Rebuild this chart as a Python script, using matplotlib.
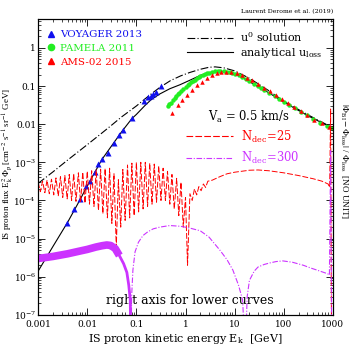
import numpy as np
import matplotlib
matplotlib.use('Agg')
import matplotlib.pyplot as plt
from matplotlib.lines import Line2D

plt.rcParams['font.family'] = ['DejaVu Serif']
plt.rcParams['mathtext.fontset'] = 'dejavuserif'

# --- data ---
voyager_e = [0.0039, 0.0054, 0.0072, 0.0095, 0.0114, 0.0144, 0.0166, 0.020, 0.0265, 0.035,
             0.044, 0.053, 0.081, 0.143, 0.172, 0.198, 0.216, 0.25, 0.316]
voyager_f = [2.6e-5, 5.8e-5, 1.07e-4, 2.36e-4, 3.2e-4, 5.5e-4, 8.9e-4, 1.2e-3, 1.8e-3, 3.2e-3,
             5.1e-3, 6.9e-3, 0.0144, 0.041, 0.051, 0.055, 0.062, 0.070, 0.10]

pamela_e = [0.44, 0.47, 0.5, 0.55, 0.6, 0.65, 0.7, 0.75, 0.8, 0.9, 1.0, 1.1, 1.2, 1.3, 1.4, 1.55, 1.7,
            1.85, 2.0, 2.25, 2.5, 2.75, 3.0, 3.5, 4.0, 4.5, 5.0, 6.0, 7.0, 8.0, 9.0, 10, 12, 14, 17,
            20, 25, 30, 35, 40, 50, 65, 80, 100, 130, 170, 220, 300, 400, 550, 750, 950]
pamela_f = [0.030, 0.033, 0.037, 0.043, 0.048, 0.054, 0.060, 0.066, 0.072, 0.083, 0.094, 0.105,
            0.115, 0.125, 0.135, 0.148, 0.160, 0.170, 0.180, 0.193, 0.205, 0.215, 0.225, 0.238,
            0.245, 0.249, 0.250, 0.248, 0.240, 0.230, 0.220, 0.210, 0.190, 0.175, 0.152, 0.135,
            0.115, 0.100, 0.089, 0.080, 0.066, 0.054, 0.046, 0.039, 0.032, 0.026, 0.021, 0.017,
            0.0135, 0.011, 0.0092, 0.0080]

ams_e = [0.52, 0.71, 0.83, 1.05, 1.33, 1.68, 2.12, 2.68, 3.4, 4.3, 5.4, 6.8, 8.5, 11, 14, 18, 23,
         30, 40, 52, 68, 90, 120, 160, 220, 300, 420, 600, 850]
ams_f = [0.020, 0.032, 0.043, 0.058, 0.079, 0.107, 0.13, 0.16, 0.195, 0.22, 0.235, 0.24, 0.235,
         0.22, 0.195, 0.165, 0.14, 0.115, 0.09, 0.073, 0.058, 0.046, 0.036, 0.029, 0.022, 0.017,
         0.013, 0.0105, 0.0085]

# u0 solution (dash-dot) and analytical u_loss (solid)
u0_e = [0.001, 0.002, 0.004, 0.01, 0.02, 0.03, 0.05, 0.1, 0.15, 0.2, 0.3, 0.5, 0.8, 1.2, 2, 3, 4,
        6, 10, 20, 50, 100, 300, 1000]
u0_f = [2.8e-4, 5.6e-4, 1.15e-3, 2.9e-3, 5.9e-3, 9e-3, 0.0155, 0.03, 0.046, 0.062, 0.092, 0.14,
        0.185, 0.225, 0.275, 0.31, 0.318, 0.30, 0.25, 0.16, 0.075, 0.040, 0.018, 0.0080]
uloss_e = [0.001, 0.002, 0.004, 0.007, 0.01, 0.02, 0.03, 0.05, 0.081, 0.1, 0.15, 0.2, 0.3, 0.48,
           0.77, 1.2, 2, 3, 5, 8, 12, 20, 50, 100, 300, 1000]
uloss_f = [1.4e-6, 6.2e-6, 2.7e-5, 1.0e-4, 2.4e-4, 1.2e-3, 2.5e-3, 6.3e-3, 0.014, 0.018, 0.031,
           0.044, 0.062, 0.085, 0.108, 0.14, 0.19, 0.225, 0.245, 0.23, 0.19, 0.13, 0.066, 0.038,
           0.017, 0.0078]

# relative difference N_dec = 25 (red, oscillating)
red_e = [0.001, 0.00111, 0.00123, 0.00137, 0.00152, 0.00169, 0.00187, 0.00208, 0.00231, 0.00257,
         0.00285, 0.00317, 0.0035, 0.0039, 0.0043, 0.0048, 0.0053, 0.0059, 0.0066, 0.0073, 0.0081,
         0.009, 0.01, 0.0111, 0.0123, 0.0137, 0.0152, 0.0169, 0.0187, 0.0208, 0.0231, 0.0257,
         0.0285, 0.0317, 0.035, 0.039, 0.043, 0.048, 0.053, 0.059, 0.066, 0.073, 0.081, 0.09, 0.1,
         0.111, 0.123, 0.137, 0.152, 0.169, 0.187, 0.208, 0.231, 0.257, 0.285, 0.317, 0.35, 0.39,
         0.43, 0.48, 0.53, 0.59, 0.66, 0.73, 0.81, 0.9, 1.0, 1.1, 1.23, 1.37, 1.52, 1.69, 1.87,
         2.08, 2.31, 2.57, 2.85, 3.5, 5, 7, 10, 20, 30, 50, 100, 200, 400, 600, 800, 860, 900, 940]
red_f = [3.0e-4, 1.7e-4, 3.2e-4, 1.6e-4, 3.4e-4, 1.5e-4, 3.6e-4, 1.4e-4, 3.9e-4, 1.3e-4,
         4.2e-4, 1.2e-4, 4.5e-4, 1.1e-4, 4.8e-4, 1.0e-4, 5.0e-4, 9.5e-5, 5.3e-4, 9e-5, 5.5e-4,
         8.5e-5, 5.8e-4, 8e-5, 6.0e-4, 7e-5, 6.3e-4, 5.5e-5, 6.6e-4, 4.5e-5, 6.9e-4, 3.5e-5,
         7.0e-4, 2.5e-5, 5.0e-4, 6e-6, 3.5e-4, 2e-5, 6.5e-4, 3e-5, 8.5e-4, 3.5e-5, 9.5e-4, 4e-5,
         1.0e-3, 5e-5, 1.0e-3, 6e-5, 1.0e-3, 7e-5, 9.5e-4, 8e-5, 9e-4, 9e-5, 8e-4, 1.0e-4, 7e-4,
         1.0e-4, 5.8e-4, 8e-5, 4.8e-4, 6e-5, 3.8e-4, 4e-5, 3.0e-4, 2e-5, 1.2e-4, 2e-6, 1.5e-4,
         1.0e-4, 2.0e-4, 1.4e-4, 2.3e-4, 1.8e-4, 2.7e-4, 2.2e-4, 3.2e-4, 3.4e-4, 4.2e-4, 5e-4,
         5.5e-4, 6.2e-4, 6.3e-4, 6e-4, 5.3e-4, 4.5e-4, 3.7e-4, 3.2e-4, 2.7e-4, 2.2e-4, 2.5e-2, 1e-8]

# relative difference N_dec = 300 (violet): thick band at low energy, then thin curve
band_e = [0.001, 0.002, 0.004, 0.007, 0.01, 0.015, 0.02, 0.025, 0.03, 0.037, 0.045]
band_f = [3.0e-6, 3.4e-6, 4.0e-6, 4.7e-6, 5.2e-6, 6.0e-6, 6.5e-6, 6.8e-6, 6.6e-6, 5.5e-6, 3.6e-6]
dip_e = [0.045, 0.055, 0.064, 0.07, 0.075, 0.078]
dip_f = [3.6e-6, 2.2e-6, 1.3e-6, 6e-7, 2.5e-7, 1e-8]
vio_e = [0.078, 0.08, 0.085, 0.094, 0.11, 0.136, 0.17, 0.22, 0.3, 0.48, 0.8, 1.2, 2, 3, 5, 7, 9.2,
         12, 14.5, 16.5, 18, 20, 25, 30, 40, 52, 70, 96, 150, 250, 350, 470, 650, 780, 850, 900, 950]
vio_f = [1e-8, 3e-7, 1.5e-6, 4.5e-6, 8e-6, 1.2e-5, 1.5e-5, 1.8e-5, 2.0e-5, 2.2e-5, 2.1e-5, 1.9e-5,
         1.6e-5, 1.1e-5, 5e-6, 2.8e-6, 1.5e-6, 6e-7, 2.5e-7, 1e-8, 3e-7, 8e-7, 1.4e-6, 1.8e-6,
         2.1e-6, 2.3e-6, 2.5e-6, 2.6e-6, 2.4e-6, 2.0e-6, 1.7e-6, 1.5e-6, 1.3e-6, 1.2e-6, 1.1e-6,
         2e-3, 1e-8]

ytick_vals = [1e-7, 1e-6, 1e-5, 1e-4, 1e-3, 1e-2, 1e-1, 1]
ytick_labels = ['10$^{-7}$', '10$^{-6}$', '10$^{-5}$', '10$^{-4}$', '10$^{-3}$', '0.01', '0.1', '1']
xtick_vals = [0.001, 0.01, 0.1, 1, 10, 100, 1000]
xtick_labels = ['0.001', '0.01', '0.1', '1', '10', '100', '1000']

fig = plt.figure(figsize=(3.53, 3.53), dpi=100)
ax = fig.add_axes([0.108, 0.108, 0.835, 0.838])
ax2 = ax.twinx()

red = '#ff0000'
vio = '#cc33ff'
blue = '#1010ee'
green = '#22ee22'

ax.plot(u0_e, u0_f, color='black', lw=0.8, dashes=[7, 2, 1, 2])
ax.plot(uloss_e, uloss_f, color='black', lw=0.8)
ax.plot(pamela_e, pamela_f, 'o', color=green, ms=3.2, mec='none')
ax.plot(ams_e, ams_f, '^', color=red, ms=3.2, mec='none')
ax.plot(voyager_e, voyager_f, '^', color=blue, ms=3.8, mec='none')

ax2.plot(red_e, red_f, color=red, lw=0.7, dashes=[6, 2])
ax2.plot(band_e, band_f, color=vio, lw=5.5, solid_capstyle='butt')
ax2.plot(dip_e, dip_f, color=vio, lw=2.0)
ax2.plot(vio_e, vio_f, color=vio, lw=0.8, dashes=[5, 1.5, 1, 1.5])

for a in (ax, ax2):
    a.set_xscale('log')
    a.set_yscale('log')
    a.set_xlim(0.001, 1000)
    a.set_ylim(1e-7, 5.7)
ax.set_yticks(ytick_vals, ytick_labels)
ax.set_xticks(xtick_vals, xtick_labels)
ax2.set_yticks(ytick_vals, [''] * len(ytick_vals))
ax.tick_params(which='both', direction='in', top=True, labelsize=6.5)
ax.tick_params(axis='y', pad=1.5)
ax.tick_params(axis='x', pad=4)
ax.tick_params(which='major', length=5, width=0.6)
ax.tick_params(which='minor', length=2.5, width=0.5)
ax2.tick_params(which='both', direction='in')
ax2.tick_params(which='major', length=5, width=0.6)
ax2.tick_params(which='minor', length=2.5, width=0.5)
for s in ax.spines.values():
    s.set_linewidth(0.8)

ax.set_xlabel('IS proton kinetic energy E$_{\\rm k}$  [GeV]', fontsize=8, labelpad=2)
ax.set_ylabel('IS proton flux E$_{\\rm k}^{2}\\,\\Phi_{\\rm p}$ [cm$^{-2}$ s$^{-1}$ sr$^{-1}$ GeV]',
              fontsize=6.5, family='Liberation Serif', math_fontfamily='stix')
ax.yaxis.set_label_coords(-0.078, 0.51)
ax2.set_ylabel('$|\\Phi_{\\rm BI} - \\Phi_{\\rm loss}|$ / $\\Phi_{\\rm loss}$  [NO UNIT]',
               fontsize=6.5, rotation=-90, family='Liberation Serif', math_fontfamily='stix')
ax2.yaxis.set_label_coords(1.055, 0.52)

# legends
h1 = [Line2D([], [], ls='none', marker='^', color=blue, ms=4.5),
      Line2D([], [], ls='none', marker='o', color=green, ms=4.5),
      Line2D([], [], ls='none', marker='^', color=red, ms=4.5)]
leg1 = ax.legend(h1, ['VOYAGER 2013', 'PAMELA 2011', 'AMS-02 2015'], loc='upper left',
                 bbox_to_anchor=(0.027, 0.963), frameon=False, fontsize=7.4,
                 labelcolor=[blue, green, red], handlelength=1.0, handletextpad=0.4,
                 labelspacing=0.45, borderaxespad=0, borderpad=0)
ax.add_artist(leg1)
h2 = [Line2D([], [], color='black', lw=0.8, dashes=[7, 2, 1, 2]),
      Line2D([], [], color='black', lw=0.8)]
leg2 = ax.legend(h2, ['u$^{0}$ solution', 'analytical u$_{\\rm loss}$'], loc='upper left',
                 bbox_to_anchor=(0.505, 0.962), frameon=False, fontsize=8, handlelength=4.1,
                 handletextpad=0.7, labelspacing=0.2, borderaxespad=0, borderpad=0)
ax.add_artist(leg2)
h3 = [Line2D([], [], color=red, lw=0.8, dashes=[6, 2]),
      Line2D([], [], color=vio, lw=0.8, dashes=[5, 1.5, 1, 1.5])]
leg3 = ax.legend(h3, ['N$_{\\rm dec}\\!=\\!25$', 'N$_{\\rm dec}\\!=\\!300$'], loc='upper left',
                 bbox_to_anchor=(0.502, 0.63), frameon=False, fontsize=8.3, handlelength=4.1,
                 handletextpad=0.7, labelspacing=0.45, labelcolor=[red, vio],
                 borderaxespad=0, borderpad=0)

ax.text(0.715, 0.668, 'V$_{\\rm a}$ = 0.5 km/s', transform=ax.transAxes, fontsize=8.3,
        ha='center', va='center')
ax.text(0.515, 0.05, 'right axis for lower curves', transform=ax.transAxes, fontsize=9,
        ha='center', va='center')
ax.text(1.0, 1.015, 'Laurent Derome et al. (2019)', transform=ax.transAxes, fontsize=4.5,
        ha='right', va='bottom')

fig.savefig('out.png', dpi=100)
